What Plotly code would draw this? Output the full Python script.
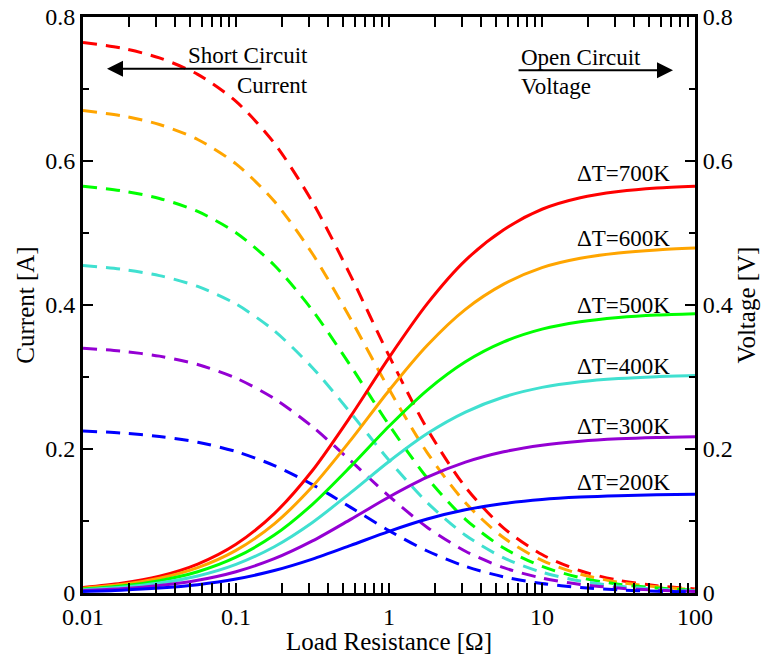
import plotly.graph_objects as go

# Load resistance sample points [Ohm] (quarter-decade steps)
resistance = [0.01, 0.0178, 0.0316, 0.0562, 0.1, 0.178, 0.316, 0.562, 1,
              1.78, 3.16, 5.62, 10, 17.8, 31.6, 56.2, 100]

delta_t_labels = ["ΔT=700K", "ΔT=600K", "ΔT=500K", "ΔT=400K", "ΔT=300K", "ΔT=200K"]
colors = ["#ff0000", "#ffa500", "#00ff00", "#40e0d0", "#9400d3", "#0000ff"]

# Current [A] (dashed)
current_700 = [0.7647, 0.7568, 0.7432, 0.7203, 0.6828, 0.6247, 0.5431, 0.4405, 0.3296, 0.2276, 0.1470, 0.0902, 0.0534, 0.0309, 0.0177, 0.0101, 0.0057]
current_600 = [0.6700, 0.6629, 0.6507, 0.6299, 0.5960, 0.5440, 0.4712, 0.3804, 0.2832, 0.1947, 0.1253, 0.0767, 0.0453, 0.0262, 0.0150, 0.0086, 0.0048]
current_500 = [0.5650, 0.5587, 0.5480, 0.5299, 0.5004, 0.4552, 0.3926, 0.3153, 0.2334, 0.1596, 0.1024, 0.0624, 0.0369, 0.0213, 0.0122, 0.0069, 0.0039]
current_400 = [0.4550, 0.4497, 0.4408, 0.4258, 0.4014, 0.3642, 0.3129, 0.2501, 0.1843, 0.1255, 0.0802, 0.0488, 0.0288, 0.0166, 0.0095, 0.0054, 0.0030]
current_300 = [0.3400, 0.3359, 0.3290, 0.3173, 0.2985, 0.2700, 0.2309, 0.1836, 0.1345, 0.0911, 0.0580, 0.0352, 0.0207, 0.0119, 0.0068, 0.0039, 0.0022]
current_200 = [0.2250, 0.2222, 0.2174, 0.2094, 0.1965, 0.1770, 0.1506, 0.1189, 0.0866, 0.0583, 0.0370, 0.0224, 0.0131, 0.0076, 0.0043, 0.0024, 0.0014]

# Voltage [V] (solid)
voltage_700 = [0.0076, 0.0134, 0.0233, 0.0402, 0.0677, 0.1103, 0.1702, 0.2456, 0.3270, 0.4019, 0.4620, 0.5045, 0.5330, 0.5490, 0.5575, 0.5625, 0.5650]
voltage_600 = [0.0067, 0.0117, 0.0204, 0.0352, 0.0592, 0.0961, 0.1479, 0.2123, 0.2813, 0.3441, 0.3940, 0.4290, 0.4520, 0.4650, 0.4722, 0.4765, 0.4790]
voltage_500 = [0.0056, 0.0099, 0.0172, 0.0295, 0.0497, 0.0804, 0.1231, 0.1758, 0.2316, 0.2819, 0.3212, 0.3488, 0.3665, 0.3768, 0.3827, 0.3862, 0.3880]
voltage_400 = [0.0045, 0.0079, 0.0138, 0.0237, 0.0398, 0.0643, 0.0980, 0.1394, 0.1827, 0.2214, 0.2512, 0.2722, 0.2856, 0.2934, 0.2979, 0.3005, 0.3020]
voltage_300 = [0.0034, 0.0059, 0.0103, 0.0177, 0.0296, 0.0476, 0.0723, 0.1023, 0.1333, 0.1608, 0.1817, 0.1961, 0.2053, 0.2108, 0.2141, 0.2160, 0.2170]
voltage_200 = [0.0022, 0.0039, 0.0068, 0.0116, 0.0194, 0.0312, 0.0471, 0.0661, 0.0856, 0.1027, 0.1155, 0.1243, 0.1299, 0.1332, 0.1352, 0.1363, 0.1370]

currents = [current_700, current_600, current_500, current_400, current_300, current_200]
voltages = [voltage_700, voltage_600, voltage_500, voltage_400, voltage_300, voltage_200]

# label y positions (voltage units)
label_y = [0.583, 0.493, 0.400, 0.314, 0.231, 0.153]

x_ticks = [0.01, 0.1, 1, 10, 100]
x_ticktext = ["0.01", "0.1", "1", "10", "100"]
y_ticks = [0, 0.2, 0.4, 0.6, 0.8]
y_ticktext = ["0", "0.2", "0.4", "0.6", "0.8"]

FONT = "Liberation Serif"

fig = go.Figure()

for cur, col in zip(currents, colors):
    fig.add_trace(go.Scatter(x=resistance, y=cur, mode="lines",
                             line=dict(color=col, width=3, dash="14px,9px", shape="spline", smoothing=0.8),
                             yaxis="y", showlegend=False, hoverinfo="skip"))
for vol, col in zip(voltages, colors):
    fig.add_trace(go.Scatter(x=resistance, y=vol, mode="lines",
                             line=dict(color=col, width=3, shape="spline", smoothing=0.8),
                             yaxis="y2", showlegend=False, hoverinfo="skip"))

annfont = dict(family=FONT, size=23, color="black")
annotations = []
for lab, ly in zip(delta_t_labels, label_y):
    annotations.append(dict(x=1.85, y=ly, xref="x", yref="y2", text=lab, showarrow=False,
                            xanchor="right", yanchor="middle", font=annfont))

annotations += [
    dict(x=-0.516, y=0.746, xref="x", yref="y", text="Short Circuit", showarrow=False,
         xanchor="right", yanchor="middle", font=annfont),
    dict(x=-0.516, y=0.705, xref="x", yref="y", text="Current", showarrow=False,
         xanchor="right", yanchor="middle", font=annfont),
    dict(x=0.850, y=0.744, xref="x", yref="y", text="Open Circuit", showarrow=False,
         xanchor="left", yanchor="middle", font=annfont),
    dict(x=0.850, y=0.704, xref="x", yref="y", text="Voltage", showarrow=False,
         xanchor="left", yanchor="middle", font=annfont),
    dict(x=-1.843, y=0.728, ax=-0.824, ay=0.728, xref="x", yref="y", axref="x", ayref="y",
         text="", showarrow=True, arrowhead=2, arrowsize=1.6, arrowwidth=2, arrowcolor="black"),
    dict(x=1.856, y=0.726, ax=0.837, ay=0.726, xref="x", yref="y", axref="x", ayref="y",
         text="", showarrow=True, arrowhead=2, arrowsize=1.6, arrowwidth=2, arrowcolor="black"),
]

tickfont = dict(family=FONT, size=24, color="black")
titlefont = dict(family=FONT, size=25, color="black")

fig.update_layout(
    width=767, height=655,
    margin=dict(l=83, r=72, t=17, b=62),
    paper_bgcolor="white", plot_bgcolor="white",
    showlegend=False,
    annotations=annotations,
    xaxis=dict(type="log", range=[-2, 2], showgrid=False, zeroline=False, automargin=False,
               showline=True, linewidth=3, linecolor="black", mirror="allticks",
               ticks="inside", ticklen=10, tickwidth=2, tickcolor="black",
               tickvals=x_ticks, ticktext=x_ticktext, tickfont=tickfont,
               minor=dict(ticks="inside", ticklen=6, tickwidth=2, tickcolor="black", dtick="D1", showgrid=False),
               title=dict(text="Load Resistance [Ω]", font=titlefont, standoff=0)),
    yaxis=dict(range=[0, 0.8], showgrid=False, zeroline=False, automargin=False,
               showline=True, linewidth=3, linecolor="black", mirror=False,
               ticks="inside", ticklen=10, tickwidth=2, tickcolor="black",
               tickvals=y_ticks, ticktext=y_ticktext, tickfont=tickfont,
               minor=dict(ticks="inside", ticklen=6, tickwidth=2, tickcolor="black", dtick=0.1, showgrid=False),
               title=dict(text="Current [A]", font=titlefont, standoff=4)),
    yaxis2=dict(range=[0, 0.8], overlaying="y", side="right", showgrid=False, zeroline=False, automargin=False,
                showline=True, linewidth=3, linecolor="black",
                ticks="inside", ticklen=10, tickwidth=2, tickcolor="black",
                tickvals=y_ticks, ticktext=y_ticktext, tickfont=tickfont,
                minor=dict(ticks="inside", ticklen=6, tickwidth=2, tickcolor="black", dtick=0.1, showgrid=False),
                title=dict(text="Voltage [V]", font=titlefont, standoff=4)),
)

fig.write_html("out.html")
